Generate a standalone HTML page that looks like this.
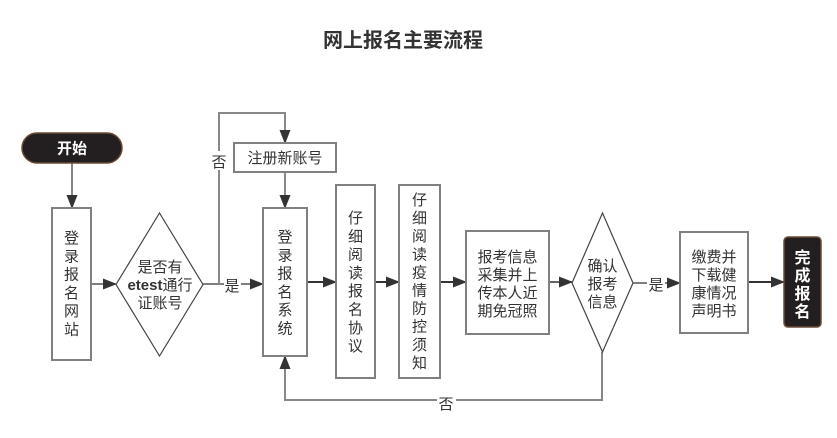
<!DOCTYPE html>
<html><head><meta charset="utf-8"><style>
html,body{margin:0;padding:0;background:#fff;}
svg{display:block;}
text{font-family:"Liberation Sans","Noto Sans CJK SC",sans-serif;fill:#333;}
</style></head><body>
<svg width="837" height="438" viewBox="0 0 837 438" xmlns="http://www.w3.org/2000/svg">
<defs>
<marker id="ah" markerWidth="14" markerHeight="11" refX="13" refY="5.5" orient="auto" markerUnits="userSpaceOnUse">
<path d="M0,0 L14,5.5 L0,11 Z" fill="#333"/>
</marker>
</defs>
<rect width="837" height="438" fill="#fff"/>
<text x="403" y="47" font-size="20" font-weight="bold" text-anchor="middle" fill="#333">网上报名主要流程</text>

<!-- connectors -->
<g fill="none">
<line x1="72" y1="163" x2="72" y2="208" stroke="#333" stroke-width="1.2" marker-end="url(#ah)"/>
<line x1="91" y1="284" x2="116" y2="284" stroke="#333" stroke-width="1.2" marker-end="url(#ah)"/>
<line x1="203" y1="284" x2="263" y2="284" stroke="#333" stroke-width="1.2" marker-end="url(#ah)"/>
<polyline points="219,284 219,113 285,113 285,143" stroke="#888" stroke-width="2" marker-end="url(#ah)"/>
<line x1="285" y1="172" x2="285" y2="208" stroke="#888" stroke-width="2" marker-end="url(#ah)"/>
<line x1="307" y1="282" x2="336" y2="282" stroke="#333" stroke-width="2" marker-end="url(#ah)"/>
<line x1="375" y1="282" x2="399" y2="282" stroke="#333" stroke-width="2" marker-end="url(#ah)"/>
<line x1="440" y1="282" x2="466" y2="282" stroke="#333" stroke-width="2" marker-end="url(#ah)"/>
<line x1="549" y1="282" x2="572" y2="282" stroke="#333" stroke-width="1.5" marker-end="url(#ah)"/>
<line x1="633" y1="283" x2="680" y2="283" stroke="#333" stroke-width="1.2" marker-end="url(#ah)"/>
<line x1="748" y1="282" x2="784" y2="282" stroke="#333" stroke-width="2" marker-end="url(#ah)"/>
<polyline points="602,352 602,400 285,400 285,356" stroke="#888" stroke-width="2" marker-end="url(#ah)"/>
</g>

<!-- labels on connectors -->
<rect x="224" y="275" width="17" height="18" fill="#fff"/>
<text x="232" y="291" font-size="15" text-anchor="middle">是</text>
<rect x="209" y="151" width="20" height="19" fill="#fff"/>
<text x="219" y="167" font-size="15" text-anchor="middle">否</text>
<rect x="647" y="274" width="18" height="18" fill="#fff"/>
<text x="656" y="290" font-size="15" text-anchor="middle">是</text>
<rect x="437" y="393" width="19" height="18" fill="#fff"/>
<text x="446" y="409" font-size="15" text-anchor="middle">否</text>

<!-- start pill -->
<rect x="22" y="133" width="100" height="30" rx="15" fill="#231f20" stroke="#6b4a35" stroke-width="1.5"/>
<text x="72" y="153.5" font-size="15" font-weight="bold" text-anchor="middle" style="fill:#fff">开始</text>

<!-- 登录报名网站 -->
<rect x="52" y="208" width="39" height="152" fill="#fff" stroke="#808080" stroke-width="2"/>
<text font-size="15" text-anchor="middle">
<tspan x="71.5" y="243">登</tspan><tspan x="71.5" y="261.3">录</tspan><tspan x="71.5" y="279.6">报</tspan><tspan x="71.5" y="297.9">名</tspan><tspan x="71.5" y="316.2">网</tspan><tspan x="71.5" y="334.5">站</tspan>
</text>

<!-- diamond 1 -->
<polygon points="159.5,213 203,284.5 159.5,356 116,284.5" fill="#fff" stroke="#444" stroke-width="1.2"/>
<text font-size="15" text-anchor="middle">
<tspan x="160" y="272">是否有</tspan><tspan x="160" y="290" font-weight="bold">etest</tspan><tspan>通行</tspan><tspan x="160" y="308">证账号</tspan>
</text>

<!-- 注册新账号 -->
<rect x="234" y="143" width="102" height="29" fill="#fff" stroke="#808080" stroke-width="2"/>
<text x="285" y="163" font-size="15" text-anchor="middle">注册新账号</text>

<!-- 登录报名系统 -->
<rect x="263" y="208" width="44" height="148" fill="#fff" stroke="#808080" stroke-width="2"/>
<text font-size="15" text-anchor="middle">
<tspan x="285" y="242">登</tspan><tspan x="285" y="260.3">录</tspan><tspan x="285" y="278.6">报</tspan><tspan x="285" y="296.9">名</tspan><tspan x="285" y="315.2">系</tspan><tspan x="285" y="333.5">统</tspan>
</text>

<!-- 仔细阅读报名协议 -->
<rect x="336" y="185" width="39" height="193" fill="#fff" stroke="#808080" stroke-width="2"/>
<text font-size="15" text-anchor="middle">
<tspan x="355.5" y="223">仔</tspan><tspan x="355.5" y="241.3">细</tspan><tspan x="355.5" y="259.6">阅</tspan><tspan x="355.5" y="277.9">读</tspan><tspan x="355.5" y="296.2">报</tspan><tspan x="355.5" y="314.5">名</tspan><tspan x="355.5" y="332.8">协</tspan><tspan x="355.5" y="351.1">议</tspan>
</text>

<!-- 仔细阅读疫情防控须知 -->
<rect x="399" y="185" width="41" height="193" fill="#fff" stroke="#808080" stroke-width="2"/>
<text font-size="15" text-anchor="middle">
<tspan x="419.5" y="205">仔</tspan><tspan x="419.5" y="223.1">细</tspan><tspan x="419.5" y="241.2">阅</tspan><tspan x="419.5" y="259.3">读</tspan><tspan x="419.5" y="277.4">疫</tspan><tspan x="419.5" y="295.5">情</tspan><tspan x="419.5" y="313.6">防</tspan><tspan x="419.5" y="331.7">控</tspan><tspan x="419.5" y="349.8">须</tspan><tspan x="419.5" y="367.9">知</tspan>
</text>

<!-- 报考信息采集 -->
<rect x="466" y="231" width="83" height="103" fill="#fff" stroke="#808080" stroke-width="2"/>
<text font-size="15" text-anchor="middle">
<tspan x="507.5" y="262">报考信息</tspan><tspan x="507.5" y="280">采集并上</tspan><tspan x="507.5" y="298">传本人近</tspan><tspan x="507.5" y="316">期免冠照</tspan>
</text>

<!-- diamond 2 -->
<polygon points="602.5,213 633,283 602.5,352 572,283" fill="#fff" stroke="#444" stroke-width="1.2"/>
<text font-size="15" text-anchor="middle">
<tspan x="602.5" y="271">确认</tspan><tspan x="602.5" y="289">报考</tspan><tspan x="602.5" y="307">信息</tspan>
</text>

<!-- 缴费并下载 -->
<rect x="680" y="232" width="68" height="101" fill="#fff" stroke="#808080" stroke-width="2"/>
<text font-size="15" text-anchor="middle">
<tspan x="714" y="262">缴费并</tspan><tspan x="714" y="280">下载健</tspan><tspan x="714" y="298">康情况</tspan><tspan x="714" y="316">声明书</tspan>
</text>

<!-- 完成报名 -->
<rect x="784" y="237" width="37" height="90" rx="4" fill="#231f20" stroke="#6b4a35" stroke-width="1.5"/>
<text font-size="16" font-weight="bold" text-anchor="middle" style="fill:#fff">
<tspan x="802.5" y="263" style="fill:#fff">完</tspan><tspan x="802.5" y="281" style="fill:#fff">成</tspan><tspan x="802.5" y="299" style="fill:#fff">报</tspan><tspan x="802.5" y="317" style="fill:#fff">名</tspan>
</text>
</svg>
</body></html>
